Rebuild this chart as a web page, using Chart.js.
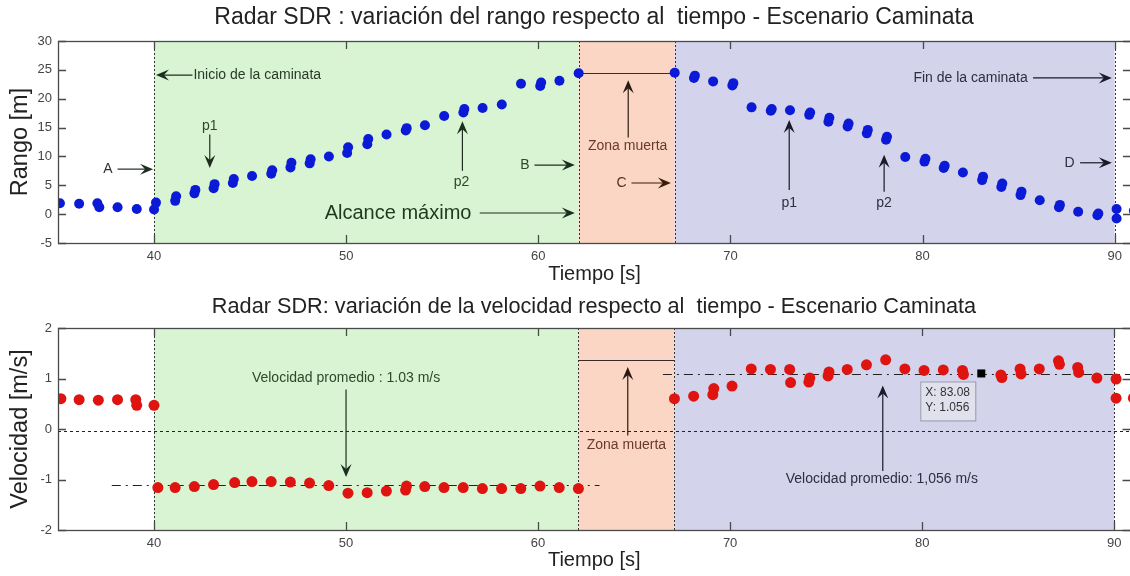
<!DOCTYPE html>
<html>
<head>
<meta charset="utf-8">
<script src="https://cdn.jsdelivr.net/npm/chart.js@4.4.1/dist/chart.umd.min.js"></script>
<style>
html, body { margin: 0; padding: 0; background: #fff; overflow: hidden; width: 1130px; height: 576px; }
canvas { position: absolute; left: 0; }
#c1 { top: 0; }
#c2 { top: 290px; }
</style>
</head>
<body>
<canvas id="c1" width="1136" height="290"></canvas>
<canvas id="c2" width="1136" height="286"></canvas>
<script>
const rangoT = [35.1, 36.1, 37.05, 37.15, 38.1, 39.1, 40.0, 40.1, 41.1, 41.15, 42.1, 42.15, 43.1, 43.15,
    44.1, 44.15, 45.1, 46.1, 46.15, 47.1, 47.15, 48.1, 48.15, 49.1, 50.05, 50.1, 51.1, 51.15, 52.1,
    53.1, 53.15, 54.1, 55.1, 56.1, 56.15, 57.1, 58.1, 59.1, 60.1, 60.15, 61.1, 62.1,
    67.1, 68.1, 68.15, 69.1, 70.1, 70.15, 71.1, 72.1, 72.15, 73.1, 74.1, 74.15, 75.1, 75.15,
    76.1, 76.15, 77.1, 77.15, 78.1, 78.15, 79.1, 80.1, 80.15, 81.1, 81.15, 82.1, 83.1, 83.15,
    84.1, 84.15, 85.1, 85.15, 86.1, 87.1, 87.15, 88.1, 89.1, 89.15, 90.1, 90.1, 91.0]
const rangoR = [1.9, 1.8, 1.9, 1.2, 1.2, 0.9, 0.8, 2.0, 2.3, 3.1, 3.6, 4.2, 4.5, 5.2,
    5.4, 6.1, 6.6, 7.0, 7.6, 8.1, 8.9, 8.8, 9.5, 10.0, 10.6, 11.6, 12.1, 13.0, 13.8,
    14.5, 14.9, 15.4, 17.0, 17.6, 18.2, 18.4, 19.0, 22.6, 22.2, 22.8, 23.1, 24.4,
    24.5, 23.6, 24.0, 23.0, 22.3, 22.7, 18.5, 17.9, 18.2, 18.0, 17.2, 17.6, 16.0, 16.7,
    15.2, 15.7, 14.0, 14.6, 12.9, 13.4, 9.9, 9.1, 9.6, 8.0, 8.4, 7.2, 5.9, 6.5,
    4.7, 5.3, 3.3, 3.9, 2.4, 1.2, 1.6, 0.4, -0.2, 0.1, 0.9, -0.75, 0.6]

const velT = [35.15, 36.1, 37.1, 38.1, 39.05, 39.1, 40.0,
    40.2, 41.1, 42.1, 43.1, 44.2, 45.1, 46.1, 47.1, 48.1, 49.1, 50.1, 51.1, 52.1, 53.1, 53.15,
    54.1, 55.1, 56.1, 57.1, 58.1, 59.1, 60.1, 61.1, 62.1,
    67.1, 68.1, 69.1, 69.15, 70.1, 71.1, 72.1, 73.1, 73.15, 74.1, 74.15, 75.1, 75.15, 76.1,
    77.1, 78.1, 79.1, 80.1, 81.1, 82.1, 82.15, 84.1, 84.15, 85.1, 85.15, 86.1, 87.1, 87.15,
    88.1, 88.15, 89.1, 90.1, 90.1, 91.0]
const velV = [0.6, 0.58, 0.57, 0.58, 0.58, 0.47, 0.47,
    -1.16, -1.16, -1.14, -1.1, -1.06, -1.04, -1.04, -1.05, -1.07, -1.12, -1.27, -1.26, -1.23, -1.21, -1.13,
    -1.14, -1.16, -1.16, -1.18, -1.18, -1.18, -1.13, -1.16, -1.18,
    0.6, 0.65, 0.68, 0.8, 0.85, 1.19, 1.18, 1.18, 0.92, 0.93, 1.01, 1.05, 1.13, 1.18,
    1.27, 1.37, 1.19, 1.16, 1.17, 1.16, 1.08, 1.07, 1.02, 1.19, 1.09, 1.19, 1.35, 1.28,
    1.22, 1.12, 1.01, 0.99, 0.61, 0.61]

const xTicks = [40, 50, 60, 70, 80, 90]
const rangoTicks = [-5, 0, 5, 10, 15, 20, 25, 30]
const velTicks = [-2, -1, 0, 1, 2]

// limites de las zonas [s]
const tInicio = 40, tAlcance = 62.1, tFinMuerta = 67.1, tFin = 90
// velocidades promedio (lineas) y punto del cursor
const velIda = -1.115, velVuelta = 1.09
const cursorX = 83.08, cursorY = 1.1

const X_MIN = 35, X_MAX = 90.85
const FONT = '"Liberation Sans", Arial, sans-serif'

function arrow(ctx, x1, y1, x2, y2, color) {
    const ang = Math.atan2(y2 - y1, x2 - x1)
    ctx.save()
    ctx.strokeStyle = color
    ctx.fillStyle = color
    ctx.lineWidth = 1.2
    ctx.setLineDash([])
    ctx.beginPath()
    ctx.moveTo(x1, y1)
    ctx.lineTo(x2 - Math.cos(ang) * 5, y2 - Math.sin(ang) * 5)
    ctx.stroke()
    ctx.translate(x2, y2)
    ctx.rotate(ang)
    ctx.beginPath()
    ctx.moveTo(0, 0)
    ctx.lineTo(-13, -5.5)
    ctx.lineTo(-8, 0)
    ctx.lineTo(-13, 5.5)
    ctx.closePath()
    ctx.fill()
    ctx.restore()
}

function text(ctx, s, x, y, color, size, align) {
    ctx.save()
    ctx.font = size + 'px ' + FONT
    ctx.fillStyle = color
    ctx.textAlign = align || 'center'
    ctx.textBaseline = 'middle'
    ctx.fillText(s, x, y)
    ctx.restore()
}

function hline(ctx, y, x1, x2, color, dash) {
    ctx.save()
    ctx.strokeStyle = color
    ctx.lineWidth = 1
    ctx.setLineDash(dash)
    ctx.beginPath()
    ctx.moveTo(x1, y)
    ctx.lineTo(x2, y)
    ctx.stroke()
    ctx.restore()
}

// fondo de zonas, lineas verticales, marco y anotaciones
const decoPlugin = {
    id: 'deco',
    beforeDatasetsDraw(chart, args, opts) {
        const ctx = chart.ctx
        const a = chart.chartArea
        const x = chart.scales.x, y = chart.scales.y
        ctx.save()
        ctx.beginPath()
        ctx.rect(a.left, a.top, a.right - a.left, a.bottom - a.top)
        ctx.clip()
        const zonas = [[tInicio, tAlcance, '#d8f4d2'], [tAlcance, tFinMuerta, '#fbd6c4'], [tFinMuerta, tFin, '#d3d3eb']]
        for (const z of zonas) {
            ctx.fillStyle = z[2]
            ctx.fillRect(x.getPixelForValue(z[0]), a.top, x.getPixelForValue(z[1]) - x.getPixelForValue(z[0]), a.bottom - a.top)
        }
        ctx.strokeStyle = '#333'
        ctx.lineWidth = 1
        ctx.setLineDash([2, 2])
        for (const t of [tInicio, tAlcance, tFinMuerta, tFin]) {
            const px = Math.round(x.getPixelForValue(t)) + 0.5
            ctx.beginPath()
            ctx.moveTo(px, a.top)
            ctx.lineTo(px, a.bottom)
            ctx.stroke()
        }
        if (opts.draw) opts.draw(ctx, x, y, a)
        ctx.restore()
    },
    afterDatasetsDraw(chart, args, opts) {
        const ctx = chart.ctx
        const a = chart.chartArea
        const x = chart.scales.x, y = chart.scales.y
        ctx.save()
        ctx.strokeStyle = '#4a4a4a'
        ctx.lineWidth = 1.3
        ctx.setLineDash([])
        ctx.strokeRect(a.left + 0.5, a.top + 0.5, a.right - a.left, a.bottom - a.top)
        ctx.beginPath()
        for (const t of xTicks) {
            const px = Math.round(x.getPixelForValue(t)) + 0.5
            ctx.moveTo(px, a.bottom); ctx.lineTo(px, a.bottom - 8)
            ctx.moveTo(px, a.top); ctx.lineTo(px, a.top + 8)
        }
        for (const v of opts.yTicks) {
            const py = Math.round(y.getPixelForValue(v)) + 0.5
            ctx.moveTo(a.left, py); ctx.lineTo(a.left + 8, py)
            ctx.moveTo(a.right, py); ctx.lineTo(a.right - 8, py)
        }
        ctx.stroke()
        ctx.restore()
        if (opts.notes) opts.notes(ctx, x, y, a)
        text(ctx, opts.title, 594, opts.titleY, '#222', opts.titleSize)
    }
}
Chart.register(decoPlugin)

function makeOptions(yMin, yMax, yTicks, yTitle, padTop, xHeight, deco) {
    return {
        responsive: false,
        animation: false,
        layout: { padding: { top: padTop, left: 0, right: 1, bottom: 0 } },
        plugins: { legend: { display: false }, tooltip: { enabled: false }, deco: deco },
        scales: {
            x: {
                type: 'linear', min: X_MIN, max: X_MAX,
                grid: { display: false, drawTicks: false },
                border: { display: false },
                afterBuildTicks: s => { s.ticks = xTicks.map(v => ({ value: v })) },
                afterFit: s => { s.height = xHeight },
                ticks: { padding: 6, color: '#444', font: { family: FONT, size: 13 } },
                title: { display: true, text: 'Tiempo [s]', color: '#222', font: { family: FONT, size: 20 }, padding: { top: 0, bottom: 4 } }
            },
            y: {
                type: 'linear', min: yMin, max: yMax,
                grid: { display: false, drawTicks: false },
                border: { display: false },
                afterBuildTicks: s => { s.ticks = yTicks.map(v => ({ value: v })) },
                afterFit: s => { s.width = 58 },
                ticks: { padding: 6, color: '#444', font: { family: FONT, size: 13 } },
                title: { display: true, text: yTitle, color: '#222', font: { family: FONT, size: 23.5 }, padding: { top: 6, bottom: 0 } }
            }
        }
    }
}

// grafico de rango
new Chart(document.getElementById('c1'), {
    type: 'scatter',
    data: {
        datasets: [{
            data: rangoT.map((t, i) => ({ x: t, y: rangoR[i] })),
            backgroundColor: '#0b1ad6',
            borderWidth: 0,
            pointRadius: 5
        }]
    },
    options: makeOptions(-5, 30, rangoTicks, 'Rango [m]', 41, 47, {
        yTicks: rangoTicks,
        title: 'Radar SDR : variación del rango respecto al  tiempo - Escenario Caminata',
        titleY: 18,
        titleSize: 23,
        draw: (ctx, x, y) => {
            hline(ctx, Math.round(y.getPixelForValue(24.45)) + 0.5, x.getPixelForValue(tAlcance), x.getPixelForValue(tFinMuerta), '#3a2a2a', [])
        },
        notes: (ctx, x, y) => {
            const X = v => x.getPixelForValue(v), Y = v => y.getPixelForValue(v)
            const dk = '#1e2e1e', gr = '#2a4a2a', br = '#5a3020', pu = '#2e2e40'
            arrow(ctx, X(42.0), Y(24.1), X(40.1), Y(24.1), dk)
            text(ctx, 'Inicio de la caminata', X(42.05), Y(24.1), '#2a3a2a', 14, 'left')
            text(ctx, 'A', X(37.6), Y(7.8), '#333', 14)
            arrow(ctx, X(38.1), Y(7.8), X(39.95), Y(7.8), dk)
            text(ctx, 'p1', X(42.9), Y(15.2), gr, 14)
            arrow(ctx, X(42.9), Y(13.8), X(42.9), Y(8.0), dk)
            text(ctx, 'p2', X(56.0), Y(5.5), gr, 14)
            arrow(ctx, X(56.05), Y(7.5), X(56.05), Y(16.1), dk)
            text(ctx, 'B', X(59.3), Y(8.5), gr, 14)
            arrow(ctx, X(59.8), Y(8.5), X(61.9), Y(8.5), dk)
            text(ctx, 'Alcance máximo', X(52.7), Y(0.2), '#1e3a1e', 20)
            arrow(ctx, X(56.95), Y(0.2), X(61.9), Y(0.2), dk)
            text(ctx, 'Zona muerta', X(64.65), Y(11.8), '#6a3a2a', 14)
            arrow(ctx, X(64.68), Y(13.3), X(64.68), Y(23.2), '#2a1a12')
            text(ctx, 'C', X(64.33), Y(5.4), br, 14)
            arrow(ctx, X(64.85), Y(5.4), X(66.9), Y(5.4), '#3a1a0a')
            text(ctx, 'Fin de la caminata', X(82.5), Y(23.6), pu, 14)
            arrow(ctx, X(85.75), Y(23.6), X(89.85), Y(23.6), '#1a1a2a')
            text(ctx, 'D', X(87.65), Y(8.9), pu, 14)
            arrow(ctx, X(88.2), Y(8.9), X(89.85), Y(8.9), '#1a1a2a')
            text(ctx, 'p1', X(73.06), Y(1.85), pu, 14)
            arrow(ctx, X(73.06), Y(4.2), X(73.06), Y(16.3), '#1a1a2a')
            text(ctx, 'p2', X(78.0), Y(1.85), pu, 14)
            arrow(ctx, X(78.0), Y(3.9), X(78.0), Y(10.3), '#1a1a2a')
        }
    })
})

// grafico de velocidad
new Chart(document.getElementById('c2'), {
    type: 'scatter',
    data: {
        datasets: [{
            data: velT.map((t, i) => ({ x: t, y: velV[i] })),
            backgroundColor: '#df1410',
            borderWidth: 0,
            pointRadius: 5.5
        }]
    },
    options: makeOptions(-2, 2, velTicks, 'Velocidad [m/s]', 38, 46, {
        yTicks: velTicks,
        title: 'Radar SDR: variación de la velocidad respecto al  tiempo - Escenario Caminata',
        titleY: 17,
        titleSize: 21.7,
        draw: (ctx, x, y, a) => {
            const X = v => x.getPixelForValue(v), Y = v => y.getPixelForValue(v)
            hline(ctx, Math.round(Y(-0.03)) + 0.5, a.left, a.right, '#222', [3, 3])
            hline(ctx, Math.round(Y(velIda)) + 0.5, X(37.8), X(63.2), '#222', [9, 5, 2, 5])
            hline(ctx, Math.round(Y(velVuelta)) + 0.5, X(66.5), a.right, '#222', [9, 5, 2, 5])
            hline(ctx, Math.round(Y(1.36)) + 0.5, X(tAlcance), X(tFinMuerta), '#3a2a2a', [])
        },
        notes: (ctx, x, y) => {
            const X = v => x.getPixelForValue(v), Y = v => y.getPixelForValue(v)
            text(ctx, 'Velocidad promedio : 1.03 m/s', X(50.0), Y(1.0), '#2a4a2a', 14)
            arrow(ctx, X(50.0), Y(0.78), X(50.0), Y(-0.95), '#1e2e1e')
            text(ctx, 'Zona muerta', X(64.6), Y(-0.31), '#6a3a2a', 14)
            arrow(ctx, X(64.67), Y(-0.13), X(64.67), Y(1.23), '#2a1a12')
            text(ctx, 'Velocidad promedio: 1,056 m/s', X(77.9), Y(-1.0), '#2e2e40', 14)
            arrow(ctx, X(77.95), Y(-0.83), X(77.95), Y(0.86), '#1a1a2a')
            // cursor de datos
            const cx = X(cursorX), cy = Y(cursorY)
            ctx.save()
            ctx.fillStyle = '#000'
            ctx.fillRect(cx - 4, cy - 4, 8, 8)
            ctx.fillStyle = 'rgba(236,236,240,0.55)'
            ctx.strokeStyle = '#9a9aaa'
            ctx.lineWidth = 1
            ctx.fillRect(cx - 61, cy + 8, 55, 39)
            ctx.strokeRect(cx - 60.5, cy + 8.5, 55, 39)
            ctx.restore()
            text(ctx, 'X: ' + cursorX.toFixed(2), cx - 56, cy + 19, '#333', 12, 'left')
            text(ctx, 'Y: 1.056', cx - 56, cy + 34, '#333', 12, 'left')
        }
    })
})
</script>
</body>
</html>
